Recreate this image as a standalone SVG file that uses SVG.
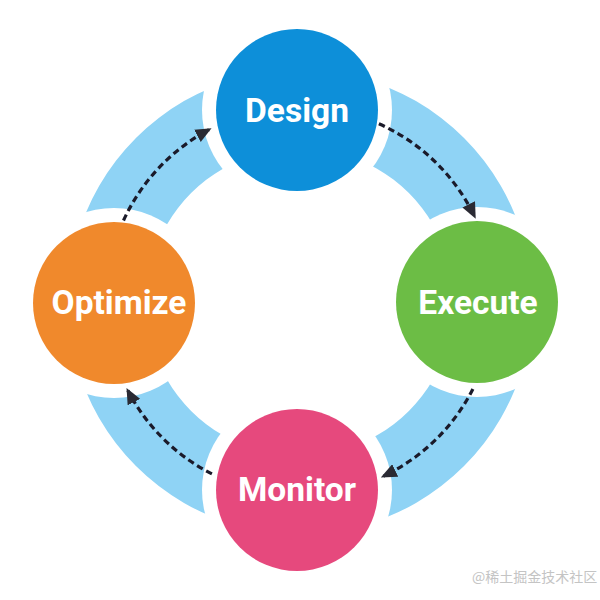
<svg xmlns="http://www.w3.org/2000/svg" width="600" height="600" viewBox="0 0 600 600">
<defs>
<style>
.label{font-family:Roboto,"Liberation Sans",Arial,sans-serif;font-weight:bold;font-size:33.5px;fill:#ffffff;text-anchor:middle}
.halo{fill:#ffffff}
.conn{fill:none;stroke:#1a1a2a;stroke-width:3.2;stroke-dasharray:6.5 4;marker-end:url(#arrow)}
.wm{font-family:"Noto Sans CJK SC","Noto Sans",sans-serif;font-size:14px;fill:#c4c4c4}
</style>
<marker id="arrow" markerUnits="userSpaceOnUse" markerWidth="16" markerHeight="14" refX="13" refY="7" orient="auto">
<path d="M0,0 L16,7 L0,14 z" fill="#2a2a33"/>
</marker>
</defs>
<rect width="600" height="600" fill="#ffffff"/>
<g id="ring">
<path d="M300,70 A232,232 0 1 1 299.99,70 Z M300,148 A154,154 0 1 0 300.01,148 Z" fill="#8fd3f5" fill-rule="evenodd"/>
<circle class="halo" cx="297" cy="110" r="95"/>
<circle class="halo" cx="477" cy="302" r="95"/>
<circle class="halo" cx="297" cy="490" r="95"/>
<circle class="halo" cx="114" cy="303" r="95"/>
</g>
<g id="connectors">
<path class="conn" d="M378.9,123.8 A194,194 0 0 1 474.4,216"/>
<path class="conn" d="M472.9,389.1 A194,194 0 0 1 383.5,476.1"/>
<path class="conn" d="M211.9,473.9 A194,194 0 0 1 127.9,390.6"/>
<path class="conn" d="M123.5,220.5 A194,194 0 0 1 208.9,129.7"/>
</g>
<g id="design">
<circle cx="297" cy="110" r="81" fill="#0d8fd9"/>
<text class="label" x="297" y="122">Design</text>
</g>
<g id="execute">
<circle cx="477" cy="302" r="81" fill="#6cbd45"/>
<text class="label" x="478" y="314">Execute</text>
</g>
<g id="monitor">
<circle cx="297" cy="490" r="81" fill="#e6497d"/>
<text class="label" x="297" y="501">Monitor</text>
</g>
<g id="optimize">
<circle cx="114" cy="303" r="81" fill="#f0892c"/>
<text class="label" x="119" y="314">Optimize</text>
</g>
<text class="wm" x="472" y="582">@稀土掘金技术社区</text>
</svg>
